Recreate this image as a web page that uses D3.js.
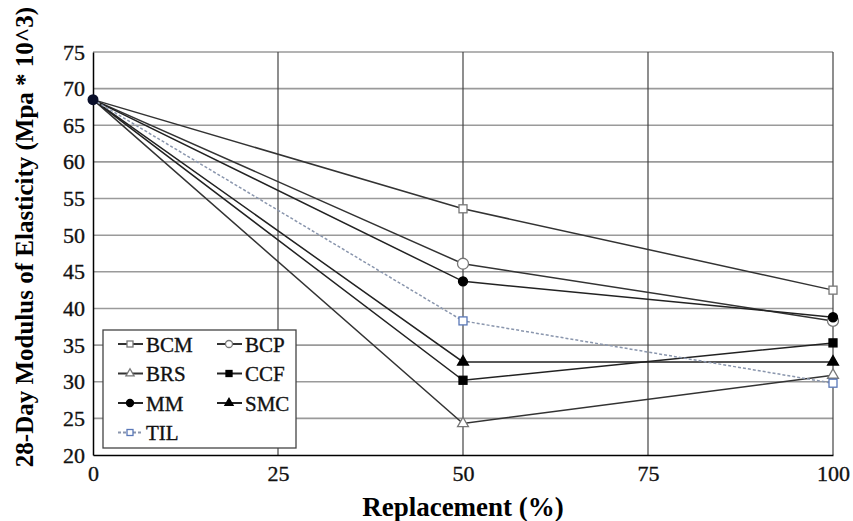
<!DOCTYPE html>
<html>
<head>
<meta charset="utf-8">
<script src="https://cdn.jsdelivr.net/npm/d3@7"></script>
<style>
  body { margin: 0; background: #fff; }
  text { font-family: "Liberation Serif", "DejaVu Serif", serif; }
</style>
</head>
<body>
<svg id="chart" width="853" height="521"></svg>
<script>
// replacement levels (%)
var replacement = [0, 50, 100];
var seriesNames = ["BCM", "BCP", "BRS", "CCF", "MM", "SMC", "TIL"];
var bcm = [68.5, 53.6, 42.5];
var bcp = [68.5, 46.1, 38.3];
var brs = [68.5, 24.3, 30.9];
var ccf = [68.5, 30.2, 35.3];
var mm  = [68.5, 43.7, 38.8];
var smc = [68.5, 32.7, 32.7];
var til = [68.5, 38.3, 29.8];
var yTicks = [20, 25, 30, 35, 40, 45, 50, 55, 60, 65, 70, 75];
var xTicks = [0, 25, 50, 75, 100];

var seriesValues = [bcm, bcp, brs, ccf, mm, smc, til];
var styles = {
  BCM: {shape: "square", fill: "#fff", stroke: "#777", line: "#333", dash: null},
  BCP: {shape: "circle", fill: "#fff", stroke: "#777", line: "#333", dash: null},
  BRS: {shape: "triangle", fill: "#fff", stroke: "#777", line: "#333", dash: null},
  CCF: {shape: "square", fill: "#000", stroke: "#000", line: "#222", dash: null},
  MM:  {shape: "circle", fill: "#000", stroke: "#000", line: "#222", dash: null},
  SMC: {shape: "triangle", fill: "#000", stroke: "#000", line: "#222", dash: null},
  TIL: {shape: "square", fill: "#fff", stroke: "#5a78b8", line: "#8a96ad", dash: "3,2"}
};

var svg = d3.select("#chart");
var margin = {left: 93, right: 20, top: 52, bottom: 66};
var W = 853, H = 521;
var x = d3.scaleLinear().domain([0, 100]).range([margin.left, W - margin.right]);
var y = d3.scaleLinear().domain([20, 75]).range([H - margin.bottom, margin.top]);

// gridlines
svg.append("g").selectAll("line.h")
  .data(yTicks.slice(1))
  .enter().append("line")
  .attr("x1", x(0)).attr("x2", x(100))
  .attr("y1", function(d){ return y(d); }).attr("y2", function(d){ return y(d); })
  .attr("stroke", "#9a9a9a").attr("stroke-width", 1.6);

svg.append("g").selectAll("line.v")
  .data(xTicks.slice(1))
  .enter().append("line")
  .attr("x1", function(d){ return x(d); }).attr("x2", function(d){ return x(d); })
  .attr("y1", y(20)).attr("y2", y(75))
  .attr("stroke", "#444").attr("stroke-width", 1.2);

// axes
var yAxis = svg.append("g")
  .attr("transform", "translate(" + x(0) + ",0)")
  .call(d3.axisLeft(y).tickValues(yTicks).tickSize(0).tickPadding(8));
var xAxis = svg.append("g")
  .attr("transform", "translate(0," + y(20) + ")")
  .call(d3.axisBottom(x).tickValues(xTicks).tickSize(0).tickPadding(10));
[yAxis, xAxis].forEach(function(a){
  a.attr("font-family", "'Liberation Serif', serif");
  a.select(".domain").attr("stroke", "#000").attr("stroke-width", 1.5);
  a.selectAll("text").attr("font-size", 22).attr("fill", "#111")
    .attr("stroke", "#111").attr("stroke-width", 0.35);
});

svg.append("text")
  .attr("x", x(50)).attr("y", 516)
  .attr("text-anchor", "middle")
  .attr("font-size", 27).attr("font-weight", "bold")
  .text("Replacement (%)");

svg.append("text")
  .attr("transform", "translate(33," + 237 + ") rotate(-90)")
  .attr("text-anchor", "middle")
  .attr("font-size", 25).attr("font-weight", "bold")
  .text("28-Day Modulus of Elasticity (Mpa * 10^3)");

function drawMarker(g, shape, st, size) {
  if (shape === "circle") {
    g.append("circle").attr("r", size).attr("fill", st.fill).attr("stroke", st.stroke).attr("stroke-width", 1.3);
  } else if (shape === "square") {
    g.append("rect").attr("x", -size).attr("y", -size).attr("width", size * 2).attr("height", size * 2)
      .attr("fill", st.fill).attr("stroke", st.stroke).attr("stroke-width", 1.3);
  } else {
    g.append("path").attr("d", d3.symbol(d3.symbolTriangle, size * size * 3.2)())
      .attr("fill", st.fill).attr("stroke", st.stroke).attr("stroke-width", 1.3);
  }
}

var line = d3.line()
  .x(function(d, i){ return x(replacement[i]); })
  .y(function(d){ return y(d); });

seriesNames.forEach(function(name, k) {
  var st = styles[name];
  var vals = seriesValues[k];
  svg.append("path")
    .attr("d", line(vals))
    .attr("fill", "none")
    .attr("stroke", st.line)
    .attr("stroke-width", 1.5)
    .attr("stroke-dasharray", st.dash);
});
seriesNames.forEach(function(name, k) {
  var st = styles[name];
  var vals = seriesValues[k];
  vals.forEach(function(v, i) {
    if (i === 0) return;
    var sz = st.shape === "circle" ? (st.fill === "#fff" ? 5.5 : 4.5) : 4;
    var g = svg.append("g").attr("transform", "translate(" + x(replacement[i]) + "," + y(v) + ")");
    drawMarker(g, st.shape, st, sz);
  });
});
// common starting point
svg.append("circle").attr("cx", x(0)).attr("cy", y(bcm[0])).attr("r", 5.5).attr("fill", "#0a0f2a");

// legend
var lg = svg.append("g").attr("transform", "translate(103,330)");
lg.append("rect").attr("width", 193).attr("height", 118)
  .attr("fill", "#fff").attr("stroke", "#444").attr("stroke-width", 1.3);
seriesNames.forEach(function(name, k) {
  var st = styles[name];
  var col = k % 2, row = Math.floor(k / 2);
  var gx = 15 + col * 99, gy = 14 + row * 29.5;
  var item = lg.append("g").attr("transform", "translate(" + gx + "," + gy + ")");
  item.append("line").attr("x1", 0).attr("x2", 25).attr("y1", 0).attr("y2", 0)
    .attr("stroke", st.line).attr("stroke-width", 2).attr("stroke-dasharray", st.dash);
  var m = item.append("g").attr("transform", "translate(12,0)");
  drawMarker(m, st.shape, st, st.shape === "circle" ? 3.5 : 3);
  item.append("text").attr("x", 28).attr("y", 7.5)
    .attr("font-size", 21).attr("fill", "#111")
    .attr("stroke", "#111").attr("stroke-width", 0.35).text(name);
});
</script>
</body>
</html>
